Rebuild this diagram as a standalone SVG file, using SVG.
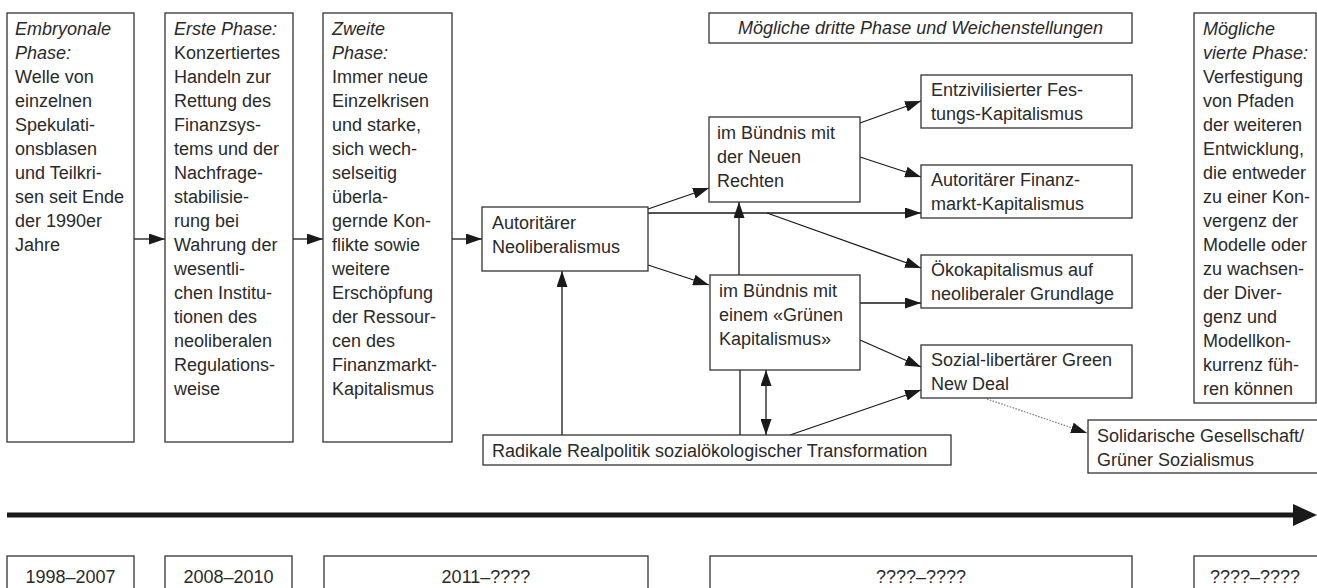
<svg xmlns="http://www.w3.org/2000/svg" width="1317" height="588" viewBox="0 0 1317 588">
<defs>
<marker id="ah" markerUnits="userSpaceOnUse" markerWidth="16" markerHeight="11" refX="16" refY="5.5" orient="auto-start-reverse">
<path d="M0,0 L16,5.5 L0,11 z" fill="#1a1a1a"/>
</marker>
</defs>
<style>
rect{fill:#fff;stroke:#333;stroke-width:1.3}
text{font-family:"Liberation Sans",Arial,sans-serif;font-size:18px;fill:#2a2a2a}
.i{font-style:italic}
.c{text-anchor:middle}
.ln{stroke:#1a1a1a;stroke-width:1.3;fill:none}
.a{marker-end:url(#ah)}
.d{marker-start:url(#ah);marker-end:url(#ah)}
.dot{stroke:#777;stroke-width:1.2;stroke-dasharray:1.5 1.5;fill:none;marker-end:url(#ah)}
</style>
<g id="connectors">
<line class="ln a" x1="134" y1="239" x2="165" y2="239"/>
<line class="ln a" x1="293" y1="239" x2="323" y2="239"/>
<line class="ln a" x1="452" y1="239" x2="482" y2="239"/>
<line class="ln a" x1="648" y1="209" x2="709" y2="188"/>
<line class="ln a" x1="648" y1="265" x2="709" y2="285"/>
<line class="ln a" x1="648" y1="213" x2="921" y2="213"/>
<line class="ln a" x1="767" y1="213" x2="921" y2="268"/>
<line class="ln a" x1="860" y1="123" x2="921" y2="101"/>
<line class="ln a" x1="860" y1="157" x2="921" y2="177"/>
<line class="ln a" x1="739" y1="275" x2="739" y2="202"/>
<line class="ln a" x1="860" y1="303" x2="921" y2="303"/>
<line class="ln a" x1="860" y1="340" x2="921" y2="367"/>
<line class="ln a" x1="790" y1="435" x2="921" y2="390"/>
<line class="ln d" x1="766" y1="370" x2="766" y2="435"/>
<line class="ln" x1="740" y1="435" x2="740" y2="370"/>
<line class="ln a" x1="562" y1="435" x2="562" y2="271"/>
<line class="dot" x1="987" y1="399" x2="1087" y2="433"/>
</g>
<g id="timeline">
<line x1="7" y1="515" x2="1296" y2="515" stroke="#1a1a1a" stroke-width="5"/>
<polygon points="1293,504 1317,515 1293,526" fill="#1a1a1a"/>
</g>
<g id="phase0">
<rect x="7" y="13" width="127" height="429"/>
<text x="15" y="35"><tspan class="i">Embryonale</tspan><tspan class="i" x="15" dy="24">Phase:</tspan><tspan x="15" dy="24">Welle von</tspan><tspan x="15" dy="24">einzelnen</tspan><tspan x="15" dy="24">Spekulati-</tspan><tspan x="15" dy="24">onsblasen</tspan><tspan x="15" dy="24">und Teilkri-</tspan><tspan x="15" dy="24">sen seit Ende</tspan><tspan x="15" dy="24">der 1990er</tspan><tspan x="15" dy="24">Jahre</tspan></text>
</g>
<g id="phase1">
<rect x="165" y="13" width="128" height="429"/>
<text x="174" y="35"><tspan class="i">Erste Phase:</tspan><tspan x="174" dy="24">Konzertiertes</tspan><tspan x="174" dy="24">Handeln zur</tspan><tspan x="174" dy="24">Rettung des</tspan><tspan x="174" dy="24">Finanzsys-</tspan><tspan x="174" dy="24">tems und der</tspan><tspan x="174" dy="24">Nachfrage-</tspan><tspan x="174" dy="24">stabilisie-</tspan><tspan x="174" dy="24">rung bei</tspan><tspan x="174" dy="24">Wahrung der</tspan><tspan x="174" dy="24">wesentli-</tspan><tspan x="174" dy="24">chen Institu-</tspan><tspan x="174" dy="24">tionen des</tspan><tspan x="174" dy="24">neoliberalen</tspan><tspan x="174" dy="24">Regulations-</tspan><tspan x="174" dy="24">weise</tspan></text>
</g>
<g id="phase2">
<rect x="323" y="13" width="129" height="429"/>
<text x="332" y="35"><tspan class="i">Zweite</tspan><tspan class="i" x="332" dy="24">Phase:</tspan><tspan x="332" dy="24">Immer neue</tspan><tspan x="332" dy="24">Einzelkrisen</tspan><tspan x="332" dy="24">und starke,</tspan><tspan x="332" dy="24">sich wech-</tspan><tspan x="332" dy="24">selseitig</tspan><tspan x="332" dy="24">überla-</tspan><tspan x="332" dy="24">gernde Kon-</tspan><tspan x="332" dy="24">flikte sowie</tspan><tspan x="332" dy="24">weitere</tspan><tspan x="332" dy="24">Erschöpfung</tspan><tspan x="332" dy="24">der Ressour-</tspan><tspan x="332" dy="24">cen des</tspan><tspan x="332" dy="24">Finanzmarkt-</tspan><tspan x="332" dy="24">Kapitalismus</tspan></text>
</g>
<g id="phase3title">
<rect x="709" y="13" width="423" height="30"/>
<text class="i c" x="920.5" y="34">Mögliche dritte Phase und Weichenstellungen</text>
</g>
<g id="phase4">
<rect x="1194" y="13" width="122" height="390"/>
<text x="1203" y="35"><tspan class="i">Mögliche</tspan><tspan class="i" x="1203" dy="24">vierte Phase:</tspan><tspan x="1203" dy="24">Verfestigung</tspan><tspan x="1203" dy="24">von Pfaden</tspan><tspan x="1203" dy="24">der weiteren</tspan><tspan x="1203" dy="24">Entwicklung,</tspan><tspan x="1203" dy="24">die entweder</tspan><tspan x="1203" dy="24">zu einer Kon-</tspan><tspan x="1203" dy="24">vergenz der</tspan><tspan x="1203" dy="24">Modelle oder</tspan><tspan x="1203" dy="24">zu wachsen-</tspan><tspan x="1203" dy="24">der Diver-</tspan><tspan x="1203" dy="24">genz und</tspan><tspan x="1203" dy="24">Modellkon-</tspan><tspan x="1203" dy="24">kurrenz füh-</tspan><tspan x="1203" dy="24">ren können</tspan></text>
</g>
<g id="neolib">
<rect x="482" y="207" width="166" height="64"/>
<text x="492" y="229"><tspan>Autoritärer</tspan><tspan x="492" dy="24">Neoliberalismus</tspan></text>
</g>
<g id="rechte">
<rect x="709" y="117" width="151" height="85"/>
<text x="717" y="139"><tspan>im Bündnis mit</tspan><tspan x="717" dy="24">der Neuen</tspan><tspan x="717" dy="24">Rechten</tspan></text>
</g>
<g id="gruen">
<rect x="710" y="275" width="150" height="95"/>
<text x="719" y="297"><tspan>im Bündnis mit</tspan><tspan x="719" dy="24">einem «Grünen</tspan><tspan x="719" dy="24">Kapitalismus»</tspan></text>
</g>
<g id="radikal">
<rect x="483" y="435" width="468" height="30"/>
<text x="492" y="457">Radikale Realpolitik sozialökologischer Transformation</text>
</g>
<g id="festung">
<rect x="921" y="75" width="211" height="53"/>
<text x="931" y="96"><tspan>Entzivilisierter Fes-</tspan><tspan x="931" dy="24">tungs-Kapitalismus</tspan></text>
</g>
<g id="finanz">
<rect x="921" y="165" width="211" height="53"/>
<text x="931" y="186"><tspan>Autoritärer Finanz-</tspan><tspan x="931" dy="24">markt-Kapitalismus</tspan></text>
</g>
<g id="oeko">
<rect x="921" y="255" width="211" height="53"/>
<text x="931" y="276"><tspan>Ökokapitalismus auf</tspan><tspan x="931" dy="24">neoliberaler Grundlage</tspan></text>
</g>
<g id="greendeal">
<rect x="921" y="345" width="211" height="53"/>
<text x="931" y="366"><tspan>Sozial-libertärer Green</tspan><tspan x="931" dy="24">New Deal</tspan></text>
</g>
<g id="solidar">
<rect x="1088" y="420" width="240" height="53"/>
<text x="1097" y="442"><tspan>Solidarische Gesellschaft/</tspan><tspan x="1097" dy="24">Grüner Sozialismus</tspan></text>
</g>
<g id="date0"><rect x="7" y="556" width="127" height="50"/><text class="c" x="70.5" y="583">1998–2007</text></g>
<g id="date1"><rect x="165" y="556" width="127" height="50"/><text class="c" x="228.5" y="583">2008–2010</text></g>
<g id="date2"><rect x="324" y="556" width="324" height="50"/><text class="c" x="486" y="583">2011–????</text></g>
<g id="date3"><rect x="710" y="556" width="422" height="50"/><text class="c" x="921" y="583">????–????</text></g>
<g id="date4"><rect x="1194" y="556" width="140" height="50"/><text class="c" x="1255" y="583">????–????</text></g>
</svg>
